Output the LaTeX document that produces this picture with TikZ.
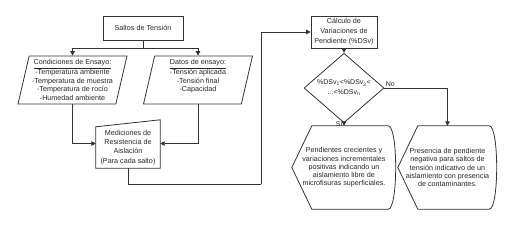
\documentclass[tikz,border=0pt]{standalone}
\usepackage{fontspec}
\setmainfont{Liberation Sans}
\usetikzlibrary{arrows.meta,positioning,calc,shapes.geometric}
\definecolor{linegray}{HTML}{333333}

\newcommand{\displayline}[1]{%
  \draw[outline] ([xshift=20pt]#1.north west) -- ([xshift=-8pt]#1.north east)
    .. controls ([xshift=2pt]#1.north east) and ([xshift=2pt]#1.south east) .. ([xshift=-8pt]#1.south east)
    -- ([xshift=20pt]#1.south west) -- (#1.west) -- cycle;}

\begin{document}
\begin{tikzpicture}[x=1pt, y=-1pt,
  every node/.style={font=\fontsize{7.2}{8.6}\selectfont, text=black!85},
  outline/.style={draw=linegray, line width=0.8pt},
  box/.style={outline, align=center, inner sep=2pt},
  data/.style={box, trapezium, trapezium left angle=76, trapezium right angle=104, trapezium stretches body, minimum width=109pt, minimum height=48pt},
  txt/.style={align=center, inner sep=0pt},
  arr/.style={draw=linegray, line width=0.8pt, -{Triangle[length=4.5pt, width=4.5pt]}},
  lbl/.style={font=\fontsize{7}{8}\selectfont, inner sep=1pt}
]
  \useasboundingbox (0,0) rectangle (512,226);

  \node[box, minimum width=80pt, minimum height=24pt] (saltos) at (143,28) {Saltos de Tensión};
  \node[data] (cond) at (72.5,80) {\underline{Condiciones de Ensayo:}\\-Temperatura ambiente\\-Temperatura de muestra\\-Temperatura de rocío\\-Humedad ambiente};
  \node[data] (datos) at (198,80) {\underline{Datos de ensayo:}\\-Tensión aplicada\\-Tensión final\\-Capacidad\\\mbox{}};

  % entrada manual
  \node[txt, minimum width=64pt, minimum height=41pt, font=\fontsize{7.2}{9.2}\selectfont] (medic) at (128,147.5) {Mediciones de\\Resistencia de\\Aislación\\(Para cada salto)};
  \draw[outline] (medic.south west) -- (medic.north west) -- ([yshift=7pt]medic.north east) -- (medic.south east) -- cycle;

  \node[box, minimum width=66pt, minimum height=32pt, font=\fontsize{7.2}{10}\selectfont] (calc) at (344,32) {Cálculo de\\Variaciones de\\Pendiente (\%DSv)};
  \node[outline, diamond, minimum width=80pt, minimum height=48pt, inner sep=0pt, align=center, font=\fontsize{7}{10}\selectfont] (cond2) at (344,88) {\%DSv\textsubscript{1}<\%DSv\textsubscript{2}<\\...<\%DSv\textsubscript{n}};

  % resultados
  \node[txt, minimum width=104pt, minimum height=83pt, font=\fontsize{7.2}{8.2}\selectfont] (pos) at (344,167.5) {Pendientes crecientes y\\variaciones incrementales\\positivas indicando un\\aislamiento libre de\\microfisuras superficiales.};
  \displayline{pos}
  \node[txt, minimum width=99pt, minimum height=83pt, font=\fontsize{7.2}{8.2}\selectfont] (neg) at (447.5,167.5) {Presencia de pendiente\\negativa para saltos de\\tensión indicativo de un\\aislamiento con presencia\\de contaminantes.};
  \displayline{neg}

  \coordinate (loop) at (261,184);

  \draw[arr] (saltos.south) -- ++(0,8) -| (cond.north);
  \draw[arr] (saltos.south) -- ++(0,8) -| (datos.north);
  \draw[arr] (cond.south) |- ([yshift=4pt]medic.west);
  \draw[arr] (datos.south) |- ([yshift=4pt]medic.east);
  \draw[outline] (medic.south) |- (loop);
  \draw[arr] (loop) |- (calc.west);
  \draw[arr] (calc) -- (cond2);
  \draw[arr] (cond2.east) node[lbl, above right] {No} -| (neg.north);
  \draw[arr] (cond2.south) -- node[lbl, left, pos=0.4] {Sí} (cond2.south |- pos.north);
\end{tikzpicture}
\end{document}
